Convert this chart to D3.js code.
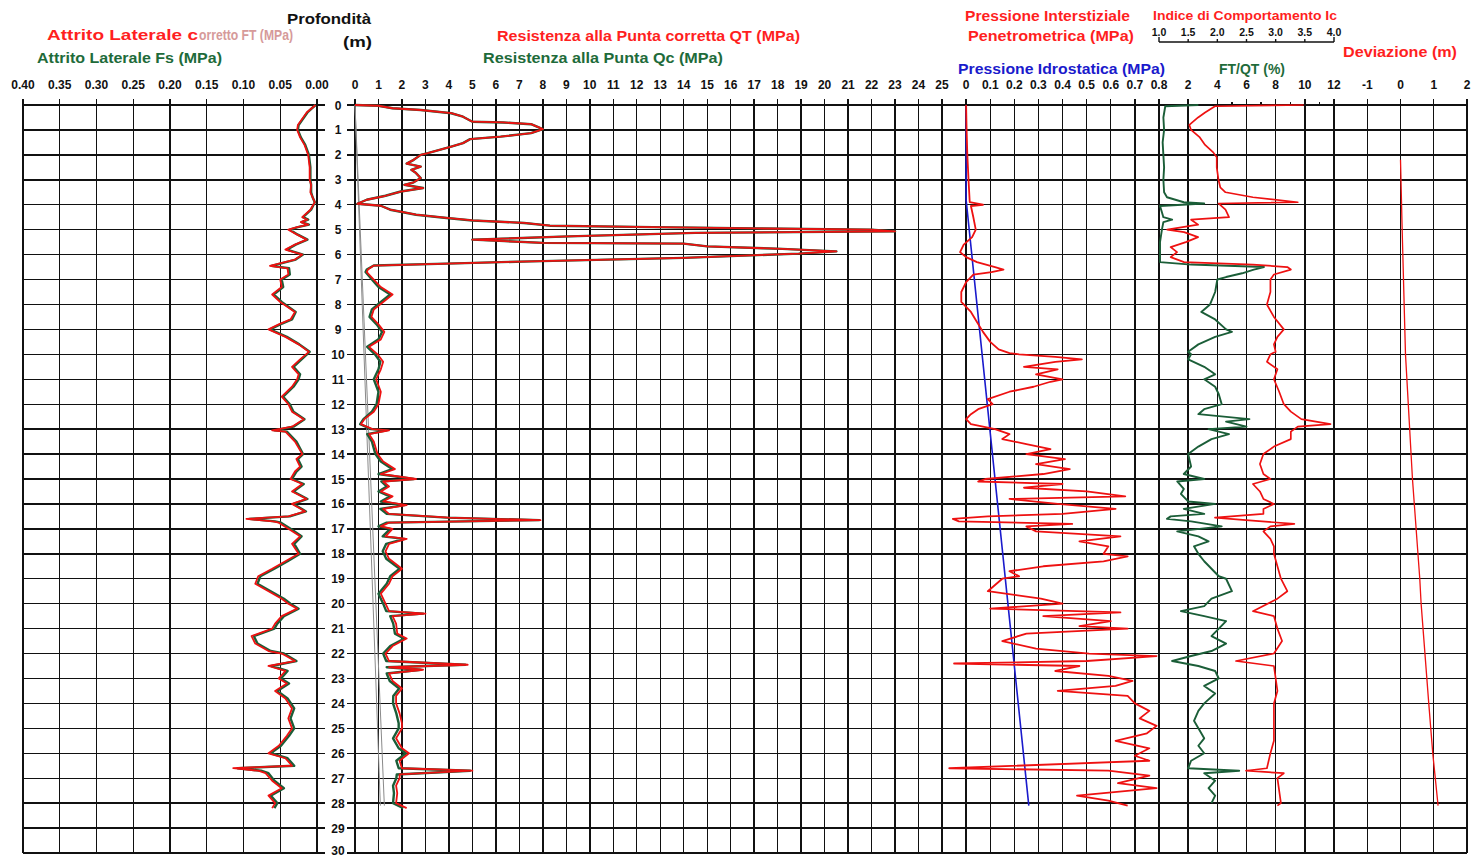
<!DOCTYPE html>
<html><head><meta charset="utf-8">
<script src="https://cdn.jsdelivr.net/npm/d3@7"></script>
<style>
body{margin:0;background:#fff}
svg{display:block}
text{font-family:"Liberation Sans",Arial,sans-serif;font-weight:bold}
</style>
</head><body>
<svg id="c" width="1484" height="858"></svg>
<script>
// ---------- tick labels ----------
const depthTicks = d3.range(0, 31);
const ftTicks = [0.40, 0.35, 0.30, 0.25, 0.20, 0.15, 0.10, 0.05, 0.00];
const qtTicks = d3.range(0, 26);
const uTicks = [0, 0.1, 0.2, 0.3, 0.4, 0.5, 0.6, 0.7, 0.8];
const rfTicks = [2, 4, 6, 8, 10, 12];
const icTicks = [1.0, 1.5, 2.0, 2.5, 3.0, 3.5, 4.0];
const devTicks = [-1, 0, 1, 2];

// ---------- series: [depth (m), value] ----------
const ftData = [[0,0.002],[0.3,0.014],[0.8,0.026],[1.0,0.027],[1.3,0.023],[1.6,0.017],[2.0,0.012],[2.5,0.010],[3.0,0.010],[3.2,0.008],[3.5,0.009],[3.7,0.006],[3.9,0.003],[4.2,0.009],[4.5,0.020],[4.6,0.013],[4.7,0.022],[4.8,0.012],[4.9,0.027],[5.0,0.039],[5.2,0.027],[5.4,0.014],[5.6,0.030],[5.8,0.043],[6.0,0.020],[6.2,0.030],[6.45,0.064],[6.55,0.040],[6.8,0.039],[7.0,0.050],[7.3,0.048],[7.6,0.061],[7.9,0.050],[8.3,0.030],[8.6,0.036],[8.8,0.052],[9.0,0.066],[9.3,0.043],[9.6,0.025],[9.9,0.011],[10.2,0.023],[10.5,0.034],[10.8,0.025],[11.0,0.027],[11.3,0.034],[11.7,0.048],[12.0,0.039],[12.3,0.034],[12.6,0.018],[12.9,0.034],[13.05,0.061],[13.1,0.043],[13.5,0.030],[14.0,0.020],[14.2,0.028],[14.5,0.023],[14.7,0.030],[15.0,0.036],[15.2,0.020],[15.5,0.034],[15.8,0.014],[16.0,0.034],[16.3,0.016],[16.5,0.039],[16.6,0.096],[16.7,0.060],[16.75,0.052],[17.0,0.039],[17.3,0.023],[17.6,0.034],[18.0,0.025],[18.3,0.043],[18.6,0.061],[18.9,0.080],[19.2,0.084],[19.5,0.066],[19.8,0.048],[20.0,0.039],[20.2,0.027],[20.5,0.048],[20.8,0.057],[21.0,0.061],[21.3,0.089],[21.6,0.084],[21.9,0.066],[22.0,0.048],[22.3,0.030],[22.5,0.066],[22.7,0.043],[23.0,0.052],[23.2,0.041],[23.5,0.057],[23.8,0.043],[24.2,0.034],[24.6,0.039],[25.0,0.034],[25.3,0.041],[25.7,0.052],[26.0,0.066],[26.2,0.043],[26.5,0.034],[26.6,0.114],[26.7,0.080],[26.8,0.070],[27.1,0.061],[27.4,0.048],[27.7,0.066],[28.0,0.057],[28.2,0.061]];

const fsData = [[0,0.002],[0.3,0.013],[0.8,0.025],[1.0,0.026],[1.3,0.022],[1.6,0.016],[2.0,0.011],[2.5,0.009],[3.0,0.009],[3.2,0.008],[3.5,0.008],[3.7,0.006],[3.9,0.003],[4.2,0.008],[4.5,0.019],[4.6,0.012],[4.7,0.021],[4.8,0.011],[4.9,0.026],[5.0,0.037],[5.2,0.026],[5.4,0.013],[5.6,0.029],[5.8,0.041],[6.0,0.019],[6.2,0.029],[6.45,0.062],[6.55,0.038],[6.8,0.037],[7.0,0.048],[7.3,0.046],[7.6,0.059],[7.9,0.048],[8.3,0.029],[8.6,0.034],[8.8,0.050],[9.0,0.064],[9.3,0.041],[9.6,0.024],[9.9,0.010],[10.2,0.021],[10.5,0.032],[10.8,0.023],[11.0,0.025],[11.3,0.032],[11.7,0.046],[12.0,0.037],[12.3,0.032],[12.6,0.017],[12.9,0.032],[13.05,0.058],[13.1,0.041],[13.5,0.028],[14.0,0.019],[14.2,0.026],[14.5,0.021],[14.7,0.028],[15.0,0.034],[15.2,0.018],[15.5,0.032],[15.8,0.013],[16.0,0.032],[16.3,0.015],[16.5,0.037],[16.6,0.092],[16.7,0.057],[16.75,0.049],[17.0,0.036],[17.3,0.021],[17.6,0.031],[18.0,0.023],[18.3,0.040],[18.6,0.058],[18.9,0.077],[19.2,0.081],[19.5,0.063],[19.8,0.045],[20.0,0.036],[20.2,0.025],[20.5,0.045],[20.8,0.054],[21.0,0.058],[21.3,0.086],[21.6,0.081],[21.9,0.063],[22.0,0.045],[22.3,0.028],[22.5,0.062],[22.7,0.040],[23.0,0.049],[23.2,0.038],[23.5,0.054],[23.8,0.040],[24.2,0.031],[24.6,0.036],[25.0,0.031],[25.3,0.038],[25.7,0.049],[26.0,0.063],[26.2,0.040],[26.5,0.031],[26.6,0.108],[26.7,0.076],[26.8,0.066],[27.1,0.058],[27.4,0.045],[27.7,0.063],[28.0,0.054],[28.2,0.058]];

const qtData = [[0,0],[0.03,1.0],[0.13,1.6],[0.2,2.8],[0.33,4.1],[0.47,4.6],[0.67,5.0],[0.7,6.3],[0.77,7.5],[0.97,8.0],[1.13,7.5],[1.27,6.2],[1.37,4.9],[1.53,4.6],[1.67,4.1],[1.8,3.6],[1.93,3.1],[2.0,2.8],[2.2,2.5],[2.35,2.2],[2.47,2.8],[2.6,2.4],[2.73,2.6],[2.93,2.8],[3.1,2.5],[3.2,2.1],[3.33,2.9],[3.47,1.95],[3.64,1.3],[3.8,0.5],[3.96,0.1],[4.04,1.1],[4.2,1.5],[4.4,2.6],[4.53,3.9],[4.63,5.0],[4.73,7.2],[4.84,8.3],[4.9,12.7],[4.95,17.1],[5.0,22.0],[5.07,23.0],[5.13,14.5],[5.27,9.1],[5.4,5.0],[5.53,8.0],[5.56,14.0],[5.67,15.0],[5.77,18.2],[5.87,20.5],[5.96,18.9],[6.13,14.0],[6.27,7.5],[6.36,3.9],[6.44,0.8],[6.6,0.55],[6.7,0.5],[7.0,0.8],[7.3,1.1],[7.6,1.6],[7.9,1.2],[8.2,0.8],[8.5,0.7],[8.8,1.0],[9.1,1.25],[9.4,1.1],[9.7,0.6],[10.0,0.96],[10.3,1.2],[10.6,1.1],[11.0,0.9],[11.5,1.1],[12.0,1.0],[12.3,0.8],[12.6,0.4],[12.8,0.25],[13.0,0.75],[13.05,1.45],[13.2,0.6],[13.5,0.8],[14.0,0.96],[14.3,1.2],[14.6,1.7],[14.8,1.1],[15.0,2.6],[15.1,1.2],[15.3,1.45],[15.5,1.1],[15.7,1.6],[15.9,1.2],[16.05,2.2],[16.2,1.2],[16.4,1.45],[16.55,4.0],[16.65,7.9],[16.75,1.45],[16.9,1.1],[17.0,1.6],[17.3,1.3],[17.4,2.2],[17.6,1.45],[17.9,1.3],[18.2,1.45],[18.6,2.0],[18.9,1.6],[19.2,1.45],[19.6,1.1],[20.0,1.3],[20.3,1.45],[20.4,3.0],[20.5,1.6],[20.8,1.75],[21.2,1.8],[21.4,2.2],[21.7,1.6],[22.0,1.3],[22.3,1.45],[22.45,4.8],[22.55,1.45],[22.65,2.9],[22.8,1.45],[23.1,1.6],[23.4,2.0],[23.7,1.75],[24.0,1.75],[24.4,1.9],[24.8,2.0],[25.0,2.0],[25.4,1.75],[25.8,2.0],[26.0,2.3],[26.3,1.9],[26.6,2.0],[26.7,5.0],[26.85,1.9],[27.0,1.9],[27.3,1.75],[27.6,1.8],[28.0,1.75],[28.2,2.2]];

const qcData = [[0,0],[0.03,1.0],[0.13,1.6],[0.2,2.8],[0.33,4.1],[0.47,4.6],[0.67,5.0],[0.7,6.3],[0.77,7.5],[0.97,8.0],[1.13,7.5],[1.27,6.2],[1.37,4.9],[1.53,4.6],[1.67,4.1],[1.8,3.6],[1.93,3.1],[2.0,2.8],[2.2,2.5],[2.35,2.2],[2.47,2.8],[2.6,2.4],[2.73,2.6],[2.93,2.8],[3.1,2.5],[3.2,2.1],[3.33,2.9],[3.47,1.95],[3.64,1.3],[3.8,0.5],[3.96,0.1],[4.04,1.1],[4.2,1.5],[4.4,2.6],[4.53,3.9],[4.63,5.0],[4.73,7.2],[4.84,8.3],[4.9,12.7],[4.95,17.1],[5.0,22.0],[5.07,23.0],[5.13,14.5],[5.27,9.1],[5.4,5.0],[5.53,8.0],[5.56,14.0],[5.67,15.0],[5.77,18.2],[5.87,20.5],[5.96,18.9],[6.13,14.0],[6.27,7.5],[6.36,3.9],[6.44,0.8],[6.6,0.5],[6.7,0.45],[7.0,0.72],[7.3,1.0],[7.6,1.5],[7.9,1.1],[8.2,0.72],[8.5,0.62],[8.8,0.92],[9.1,1.15],[9.4,1.0],[9.7,0.52],[10.0,0.85],[10.3,1.08],[10.6,1.0],[11.0,0.8],[11.5,1.0],[12.0,0.92],[12.3,0.72],[12.6,0.36],[12.8,0.22],[13.0,0.68],[13.05,1.35],[13.2,0.52],[13.5,0.72],[14.0,0.87],[14.3,1.1],[14.6,1.58],[14.8,1.0],[15.0,2.5],[15.1,1.12],[15.3,1.35],[15.5,1.0],[15.7,1.48],[15.9,1.1],[16.05,2.1],[16.2,1.08],[16.4,1.35],[16.55,3.9],[16.65,7.85],[16.75,1.35],[16.9,1.0],[17.0,1.5],[17.3,1.18],[17.4,2.1],[17.6,1.33],[17.9,1.18],[18.2,1.33],[18.6,1.9],[18.9,1.5],[19.2,1.35],[19.6,1.0],[20.0,1.2],[20.3,1.33],[20.4,2.9],[20.5,1.5],[20.8,1.63],[21.2,1.7],[21.4,2.1],[21.7,1.5],[22.0,1.2],[22.3,1.33],[22.45,4.7],[22.55,1.35],[22.65,2.8],[22.8,1.35],[23.1,1.48],[23.4,1.88],[23.7,1.63],[24.0,1.62],[24.4,1.76],[24.8,1.86],[25.0,1.86],[25.4,1.62],[25.8,1.86],[26.0,2.17],[26.3,1.76],[26.6,1.86],[26.7,4.9],[26.85,1.78],[27.0,1.76],[27.3,1.62],[27.6,1.66],[28.0,1.62],[28.2,2.06]];

const grayA = [[0,0],[28.1,1.08]];
const grayB = [[0,0],[28.1,1.25]];

const uData = [[0,0],[1,0.002],[2,0.005],[3,0.01],[3.9,0.015],[4.0,0.07],[4.05,0.02],[4.5,0.03],[5.0,0.04],[5.3,0.025],[5.6,-0.01],[5.9,-0.025],[6.1,0.0],[6.3,0.045],[6.5,0.12],[6.6,0.155],[6.7,0.105],[6.8,0.03],[7.1,0.0],[7.5,-0.02],[7.9,-0.02],[8.3,0.02],[8.7,0.045],[9.1,0.07],[9.5,0.1],[9.8,0.135],[9.95,0.18],[10.0,0.22],[10.1,0.37],[10.2,0.48],[10.3,0.37],[10.5,0.24],[10.6,0.38],[10.8,0.29],[11.0,0.40],[11.1,0.35],[11.3,0.28],[11.5,0.18],[11.8,0.09],[12.0,0.11],[12.2,0.05],[12.4,0.02],[12.6,0.0],[12.8,0.02],[13.0,0.12],[13.2,0.18],[13.4,0.15],[13.6,0.25],[13.8,0.35],[14.0,0.25],[14.2,0.41],[14.4,0.29],[14.6,0.43],[14.8,0.32],[15.0,0.08],[15.1,0.05],[15.2,0.40],[15.35,0.24],[15.5,0.5],[15.7,0.66],[15.8,0.18],[16.0,0.38],[16.2,0.62],[16.4,0.40],[16.5,0.09],[16.6,-0.055],[16.7,-0.03],[16.8,0.44],[16.9,0.25],[17.1,0.29],[17.3,0.64],[17.5,0.47],[17.7,0.59],[18.0,0.57],[18.1,0.67],[18.3,0.57],[18.5,0.32],[18.7,0.18],[18.9,0.22],[19.0,0.15],[19.5,0.09],[19.8,0.31],[20.0,0.40],[20.2,0.10],[20.35,0.64],[20.5,0.32],[20.7,0.6],[20.9,0.47],[21.0,0.67],[21.2,0.25],[21.5,0.15],[21.8,0.29],[22.0,0.51],[22.1,0.79],[22.3,0.50],[22.4,-0.05],[22.5,0.47],[22.7,0.37],[22.9,0.59],[23.1,0.69],[23.3,0.62],[23.5,0.38],[23.7,0.67],[24.0,0.70],[24.3,0.76],[24.6,0.72],[24.9,0.79],[25.2,0.75],[25.5,0.62],[25.8,0.76],[26.1,0.70],[26.3,0.76],[26.6,-0.07],[26.7,0.59],[26.9,0.76],[27.2,0.63],[27.4,0.79],[27.7,0.46],[27.9,0.59],[28.1,0.67]];

const u0Data = [[0,0],[3.8,0],[28.1,0.26]];

const rfData = [[0,2.7],[0.05,0.43],[0.5,0.3],[1,0.35],[1.5,0.25],[2,0.3],[2.5,0.35],[3,0.3],[3.5,0.35],[3.7,0.55],[3.9,1.7],[3.95,3.1],[4.05,0.07],[4.3,0.2],[4.5,0.3],[4.6,0.9],[4.7,0.3],[5.0,0.2],[5.5,0.07],[6.0,0.07],[6.3,0.07],[6.4,2.2],[6.5,7.2],[6.6,6.5],[6.75,5.7],[6.9,4.6],[7.0,4.0],[7.5,3.85],[8.0,3.5],[8.3,2.9],[8.6,3.85],[9.0,4.6],[9.1,5.0],[9.3,3.85],[9.6,2.7],[9.9,2.0],[10.0,2.2],[10.2,2.0],[10.5,3.1],[10.8,3.85],[11.0,3.1],[11.3,3.85],[11.6,4.1],[12.0,4.3],[12.2,3.1],[12.4,2.7],[12.6,6.2],[12.7,4.6],[12.9,6.0],[13.0,3.4],[13.2,4.8],[13.4,3.6],[13.7,2.7],[14.0,2.0],[14.5,2.2],[14.8,1.7],[15.0,3.1],[15.1,1.25],[15.4,1.7],[15.6,1.5],[15.9,2.0],[16.0,3.85],[16.2,1.7],[16.4,3.1],[16.5,0.8],[16.6,0.55],[16.7,2.2],[16.9,4.3],[17.1,1.25],[17.3,2.7],[17.5,3.4],[17.7,2.4],[18.0,2.7],[18.3,3.1],[18.6,3.6],[18.9,4.1],[19.0,4.6],[19.5,5.0],[19.8,3.6],[20.1,3.1],[20.3,1.5],[20.5,3.1],[20.7,4.6],[21.0,4.1],[21.3,3.6],[21.6,4.6],[21.9,3.6],[22.1,2.2],[22.3,0.9],[22.5,2.7],[22.7,3.85],[23.0,4.1],[23.3,3.1],[23.6,3.85],[24.0,3.1],[24.3,2.7],[24.7,2.4],[25.0,2.7],[25.4,3.1],[25.7,2.7],[26.0,3.1],[26.3,2.2],[26.6,2.0],[26.7,5.5],[26.8,3.1],[27.1,3.85],[27.4,3.4],[27.7,3.85],[28.0,3.6]];

const icData = [[0,3.48],[0.05,1.96],[0.3,1.79],[0.5,1.67],[0.8,1.52],[1.0,1.55],[1.3,1.70],[1.6,1.79],[1.9,1.93],[2.1,1.99],[2.5,1.99],[3.0,2.02],[3.3,2.05],[3.5,2.14],[3.7,2.61],[3.9,3.38],[3.95,2.02],[4.2,2.14],[4.5,2.2],[4.6,1.55],[4.8,1.67],[5.0,1.14],[5.1,1.43],[5.3,1.67],[5.5,1.46],[5.7,1.2],[5.9,1.31],[6.1,1.2],[6.3,1.43],[6.4,2.61],[6.5,3.2],[6.6,3.26],[6.8,2.97],[7.0,2.91],[7.5,2.91],[8.0,2.85],[8.5,2.97],[9.0,3.14],[9.3,3.03],[9.6,2.97],[9.9,3.0],[10.0,2.91],[10.3,2.85],[10.6,3.03],[11.0,2.97],[11.5,3.06],[12.0,3.14],[12.3,3.26],[12.6,3.44],[12.8,3.94],[12.9,3.38],[13.1,3.26],[13.4,3.26],[13.7,2.97],[14.0,2.79],[14.4,2.73],[14.8,2.79],[15.0,2.91],[15.2,2.61],[15.5,2.73],[15.8,2.79],[16.0,2.97],[16.2,2.79],[16.4,2.79],[16.55,1.96],[16.65,2.49],[16.8,3.32],[16.9,2.91],[17.1,2.79],[17.4,2.91],[17.7,2.97],[18.0,2.97],[18.5,3.03],[19.0,3.09],[19.5,3.2],[19.8,3.03],[20.3,2.61],[20.5,2.97],[21.0,3.03],[21.5,3.11],[22.0,2.97],[22.3,2.32],[22.5,2.97],[23.0,3.0],[23.5,3.03],[24.0,2.97],[24.5,2.97],[25.0,2.97],[25.5,2.97],[26.0,2.91],[26.6,2.85],[26.7,2.49],[26.8,3.14],[27.0,3.03],[27.5,3.06],[28.0,3.09],[28.1,3.03]];

const devData = [[2.2,0],[5,0.05],[9,0.13],[10,0.15],[15,0.36],[19,0.58],[20,0.62],[24,0.85],[26,0.97],[28.1,1.13]];

// ---------- colours ----------
const RED = "#ee1111", GREEN = "#1b5e38", BLUE = "#1a1acc", TRED = "#ff1f1f", TGREEN = "#1e6b3a";

// ---------- scales ----------
const y = d3.scaleLinear([0, 30], [105, 853]);
const xFT = d3.scaleLinear([0.40, 0], [23, 317]);
const xQT = d3.scaleLinear([0, 25], [355, 942]);
const xU = d3.scaleLinear([-0.1, 0.8], [942, 1159]);
const xRf = d3.scaleLinear([0, 12], [1159, 1334]);
const xIc = d3.scaleLinear([1, 4], [1159, 1334]);
const xDev = d3.scaleLinear([-2, 2], [1334, 1467]);

const svg = d3.select("#c");
const grid = svg.append("g").attr("stroke", "#111").attr("stroke-width", 1.4).attr("shape-rendering", "crispEdges");

// horizontal grid
depthTicks.forEach(d => {
  grid.append("line").attr("x1", xFT(0.40)).attr("x2", xFT(0) + 8).attr("y1", y(d)).attr("y2", y(d));
  grid.append("line").attr("x1", xQT(0) - 8).attr("x2", xDev(2)).attr("y1", y(d)).attr("y2", y(d));
});
// vertical grid
function vgrid(vals, sc) {
  vals.forEach(v => grid.append("line").attr("x1", sc(v)).attr("x2", sc(v)).attr("y1", y(0) - 6).attr("y2", y(30)));
}
vgrid(d3.range(0, 9).map(i => i * 0.05), xFT);
vgrid(qtTicks, xQT);
vgrid(d3.range(0, 10).map(i => -0.1 + i * 0.1), xU);
vgrid([0, 2, 4, 6, 8, 10, 12], xRf);
vgrid([-2, -1, 0, 1, 2], xDev);
[5, 7, 9, 11].forEach(v => grid.append("line").attr("x1", xRf(v)).attr("x2", xRf(v)).attr("y1", y(0) - 3).attr("y2", y(0)));
grid.append("line").attr("x1", xFT(0.40)).attr("x2", xFT(0.40)).attr("y1", y(0)-6).attr("y2", y(30)).attr("stroke-width", 2.2);
grid.append("line").attr("x1", xDev(2)).attr("x2", xDev(2)).attr("y1", y(0)-6).attr("y2", y(30)).attr("stroke-width", 2.2);
grid.append("line").attr("x1", xFT(0.40)).attr("x2", xFT(0)).attr("y1", y(30)).attr("y2", y(30)).attr("stroke-width", 2.2);
grid.append("line").attr("x1", xQT(0)).attr("x2", xDev(2)).attr("y1", y(30)).attr("y2", y(30)).attr("stroke-width", 2.2);

// ---------- top tick labels ----------
const tl = svg.append("g").attr("font-size", 12).attr("fill", "#111").attr("text-anchor", "middle");
ftTicks.forEach(v => tl.append("text").attr("x", xFT(v)).attr("y", 89).text(v.toFixed(2)));
qtTicks.forEach(v => tl.append("text").attr("x", xQT(v)).attr("y", 89).text(v));
uTicks.forEach(v => tl.append("text").attr("x", xU(v)).attr("y", 89).text(v === 0 ? "0" : v.toFixed(1)));
rfTicks.forEach(v => tl.append("text").attr("x", xRf(v)).attr("y", 89).text(v));
devTicks.forEach(v => tl.append("text").attr("x", xDev(v)).attr("y", 89).text(v));
depthTicks.forEach(d => tl.append("text").attr("x", 338).attr("y", Math.min(y(d) + 4.5, 855)).text(d));

// Ic axis (bracket)
const icg = svg.append("g");
icTicks.forEach(v => icg.append("text").attr("x", xIc(v)).attr("y", 36).attr("font-size", 10.5).attr("text-anchor", "middle").attr("fill", "#111").text(v.toFixed(1)));
icg.append("line").attr("x1", xIc(1)).attr("x2", xIc(4)).attr("y1", 42).attr("y2", 42).attr("stroke", "#111").attr("stroke-width", 1.6);
icTicks.forEach(v => icg.append("line").attr("x1", xIc(v)).attr("x2", xIc(v)).attr("y1", (v === 1 || v === 4) ? 37 : 39).attr("y2", 42).attr("stroke", "#111").attr("stroke-width", 1.4));

// ---------- titles (widths matched to the reference) ----------
const t = svg.append("g").attr("font-size", 14);
function title(x, yy, txt, color, len, size, anchor) {
  return t.append("text").attr("x", x).attr("y", yy).attr("fill", color)
    .attr("font-size", size || 14).attr("text-anchor", anchor || "start")
    .attr("textLength", len).attr("lengthAdjust", "spacingAndGlyphs").text(txt);
}
title(47, 40, "Attrito Laterale c", TRED, 151, 15);
t.append("text").attr("x", 199).attr("y", 40).attr("fill", "#d69a9a").attr("font-weight", "normal")
  .attr("font-size", 15).attr("textLength", 94).attr("lengthAdjust", "spacingAndGlyphs").text("orretto FT (MPa)");
title(37, 63, "Attrito Laterale Fs (MPa)", TGREEN, 185, 15);
title(287, 24, "Profondità", "#111", 84, 15);
title(343, 47, "(m)", "#111", 29, 15);
title(497, 41, "Resistenza alla Punta corretta QT (MPa)", TRED, 303, 15);
title(483, 63, "Resistenza alla Punta Qc (MPa)", TGREEN, 240, 15);
title(965, 21, "Pressione Interstiziale", TRED, 165, 14);
title(968, 41, "Penetrometrica (MPa)", TRED, 166, 14);
title(1153, 20, "Indice di Comportamento Ic", TRED, 184, 13);
title(1343, 57, "Deviazione (m)", TRED, 114, 15);
title(958, 74, "Pressione Idrostatica (MPa)", BLUE, 207, 15);
title(1219, 74, "FT/QT (%)", TGREEN, 66, 15);

// ---------- series ----------
function draw(data, sc, color, w) {
  const line = d3.line().x(d => sc(d[1])).y(d => y(d[0]));
  svg.append("path").datum(data).attr("d", line).attr("fill", "none")
    .attr("stroke", color).attr("stroke-width", w).attr("stroke-linejoin", "round");
}
draw(grayA, xQT, "#8a8a8a", 1);
draw(grayB, xQT, "#8a8a8a", 1);
draw(fsData, xFT, GREEN, 2.4);
draw(ftData, xFT, RED, 1.8);
draw(qcData, xQT, GREEN, 2.4);
draw(qtData, xQT, RED, 1.8);
draw(u0Data, xU, BLUE, 1.6);
draw(uData, xU, RED, 1.8);
draw(rfData, xRf, GREEN, 1.9);
draw(icData, xIc, RED, 1.7);
draw(devData, xDev, RED, 1.3);
</script>
</body></html>
